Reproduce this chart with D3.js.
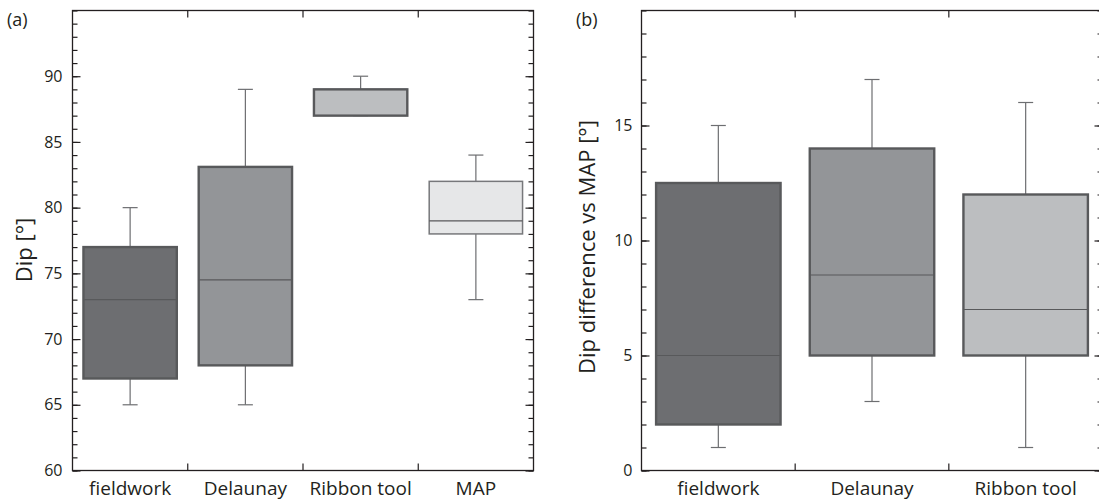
<!DOCTYPE html>
<html>
<head>
<meta charset="utf-8">
<script src="https://cdn.jsdelivr.net/npm/d3@7"></script>
<style>
  html, body { margin: 0; padding: 0; background: #fff; }
  svg { display: block; }
  text { font-family: "Open Sans", "Noto Sans", sans-serif; fill: #231f20; }
</style>
</head>
<body>
<svg id="chart" width="1099" height="504"></svg>
<script>
// ---------- data ----------
const catsA = ["fieldwork", "Delaunay", "Ribbon tool", "MAP"];
const lowA    = [65, 65, 87, 73];
const q1A     = [67, 68, 87, 78];
const medA    = [73, 74.5, 89, 79];
const q3A     = [77, 83.1, 89, 82];
const highA   = [80, 89, 90, 84];
const ticksA  = [60, 65, 70, 75, 80, 85, 90];

const catsB = ["fieldwork", "Delaunay", "Ribbon tool"];
const lowB    = [1, 3, 1];
const q1B     = [2, 5, 5];
const medB    = [5, 8.5, 7];
const q3B     = [12.5, 14, 12];
const highB   = [15, 17, 16];
const ticksB  = [0, 5, 10, 15];

const fills   = ["#6d6e71", "#939598", "#bcbec0", "#e6e7e8"];
const strokes = ["#58595b", "#58595b", "#58595b", "#77787b"];
const strokeW = [2.4, 2.4, 2.4, 1.5];

const svg = d3.select("#chart");

function panel(opt) {
  const {left, right, top, bottom, cats, low, q1, med, q3, high, domain, majors, labelPad, tag, tagX, ylabel, ylabelX, ylabelY} = opt;
  const g = svg.append("g");
  const x = d3.scaleBand().domain(cats).range([left, right]).paddingInner(0).paddingOuter(0);
  const y = d3.scaleLinear().domain(domain).range([bottom, top]);
  const minors = d3.range(domain[0], domain[1] + 1, 1);

  const bw = x.bandwidth() * 0.81;
  const capW = 15;
  cats.forEach((c, i) => {
    const cx = x(c) + x.bandwidth() / 2;
    const wl = (x1, x2, y1, y2) => g.append("line").attr("x1", x1).attr("x2", x2).attr("y1", y1).attr("y2", y2)
      .attr("stroke", "#6d6e71").attr("stroke-width", 1.2);
    wl(cx, cx, y(high[i]), y(q3[i]));
    wl(cx, cx, y(low[i]), y(q1[i]));
    wl(cx - capW / 2, cx + capW / 2, y(high[i]), y(high[i]));
    wl(cx - capW / 2, cx + capW / 2, y(low[i]), y(low[i]));
    g.append("rect").attr("x", cx - bw / 2).attr("width", bw)
      .attr("y", y(q3[i])).attr("height", y(q1[i]) - y(q3[i]))
      .attr("fill", fills[i]).attr("stroke", strokes[i]).attr("stroke-width", strokeW[i]);
    g.append("line").attr("x1", cx - bw / 2).attr("x2", cx + bw / 2).attr("y1", y(med[i])).attr("y2", y(med[i]))
      .attr("stroke", "#58595b").attr("stroke-width", 1.2);
  });

  const styleLines = a => a.selectAll("line").attr("stroke", "#231f20").attr("stroke-width", 1.2);
  g.append("g").attr("transform", `translate(${left},0)`)
    .call(d3.axisLeft(y).tickValues(minors).tickSizeInner(-5).tickSizeOuter(0).tickFormat(""))
    .call(a => a.select(".domain").remove()).call(styleLines);
  g.append("g").attr("transform", `translate(${left},0)`)
    .call(d3.axisLeft(y).tickValues(majors).tickSizeInner(-8).tickSizeOuter(0).tickPadding(labelPad).tickFormat(d3.format("d")))
    .call(a => a.select(".domain").remove()).call(styleLines)
    .call(a => a.selectAll("text").attr("font-size", 16).attr("font-family", '"Open Sans", sans-serif').attr("fill", "#231f20"));
  g.append("g").attr("transform", `translate(${right},0)`)
    .call(d3.axisRight(y).tickValues(minors).tickSizeInner(-5).tickSizeOuter(0).tickFormat(""))
    .call(a => a.select(".domain").remove()).call(styleLines);
  g.append("g").attr("transform", `translate(${right},0)`)
    .call(d3.axisRight(y).tickValues(majors).tickSizeInner(-8).tickSizeOuter(0).tickFormat(""))
    .call(a => a.select(".domain").remove()).call(styleLines);

  g.append("g").attr("transform", `translate(0,${bottom})`)
    .call(d3.axisBottom(x).tickSize(0).tickPadding(11))
    .call(a => a.select(".domain").remove())
    .call(a => a.selectAll("text").attr("font-size", 19).attr("font-family", '"Open Sans", sans-serif').attr("fill", "#231f20"));

  cats.forEach((c, i) => {
    if (i === 0) return;
    const bx = x(c);
    g.append("line").attr("x1", bx).attr("x2", bx).attr("y1", bottom).attr("y2", bottom - 7)
      .attr("stroke", "#231f20").attr("stroke-width", 1.2);
    g.append("line").attr("x1", bx).attr("x2", bx).attr("y1", top).attr("y2", top + 7)
      .attr("stroke", "#231f20").attr("stroke-width", 1.2);
  });

  g.append("rect").attr("x", left).attr("y", top).attr("width", right - left).attr("height", bottom - top)
    .attr("fill", "none").attr("stroke", "#231f20").attr("stroke-width", 1.3);

  g.append("text").attr("x", tagX).attr("y", 26).attr("font-size", 18).text(tag);
  g.append("text").attr("transform", `translate(${ylabelX},${ylabelY}) rotate(-90)`)
    .attr("text-anchor", "middle").attr("dominant-baseline", "central")
    .attr("font-size", 22).text(ylabel);
}

panel({left: 72.5, right: 533.5, top: 10.5, bottom: 470.5, cats: catsA,
  low: lowA, q1: q1A, med: medA, q3: q3A, high: highA,
  domain: [60, 95], majors: ticksA, labelPad: 10, tag: "(a)", tagX: 7,
  ylabel: "Dip [°]", ylabelX: 23, ylabelY: 250});

panel({left: 641.5, right: 1102.5, top: 10.5, bottom: 470.5, cats: catsB,
  low: lowB, q1: q1B, med: medB, q3: q3B, high: highB,
  domain: [0, 20], majors: ticksB, labelPad: 9, tag: "(b)", tagX: 576,
  ylabel: "Dip difference vs MAP [°]", ylabelX: 586, ylabelY: 247});
</script>
</body>
</html>
